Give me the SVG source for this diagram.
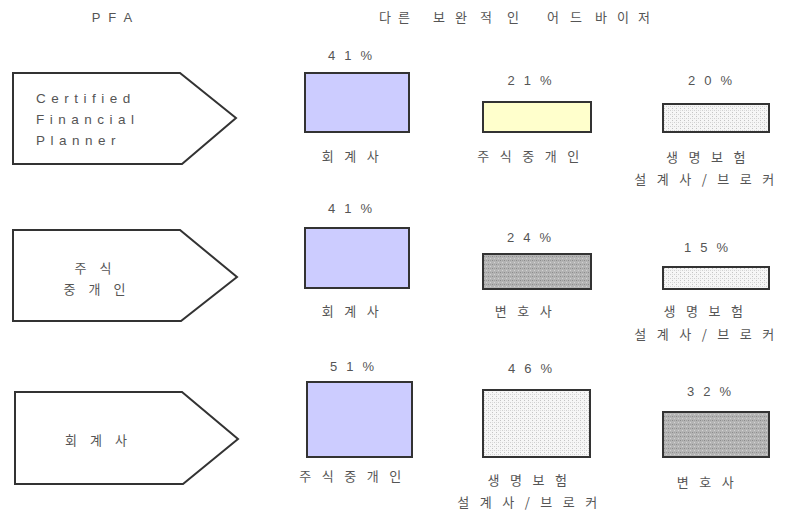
<svg xmlns="http://www.w3.org/2000/svg" width="787" height="513" viewBox="0 0 787 513">
<defs>
<pattern id="light" width="4" height="4" patternUnits="userSpaceOnUse">
<rect width="4" height="4" fill="#f6f6f6"/>
<rect x="0" y="0" width="1" height="1" fill="#c4c4c4"/>
<rect x="2" y="2" width="1" height="1" fill="#d0d0d0"/>
<rect x="0" y="2" width="1" height="1" fill="#dcdcdc"/>
</pattern>
<pattern id="dark" width="4" height="4" patternUnits="userSpaceOnUse">
<rect width="4" height="4" fill="#b4b4b4"/>
<rect x="0" y="0" width="1" height="1" fill="#8c8c8c"/>
<rect x="2" y="2" width="1" height="1" fill="#d2d2d2"/>
<rect x="2" y="0" width="1" height="1" fill="#a0a0a0"/>
</pattern>
</defs>
<style>
text{font-family:"Noto Sans CJK KR","Liberation Sans",sans-serif;font-size:13px;fill:#555;letter-spacing:10.5px}
.en{font-family:"Liberation Sans",sans-serif;font-size:13.5px;letter-spacing:5.5px}
.pct{font-family:"Liberation Sans",sans-serif;font-size:13px;letter-spacing:9px;text-anchor:middle}
.hd{letter-spacing:0}
.ar{letter-spacing:13px}
.c{text-anchor:middle}
.arrow{fill:#fff;stroke:#333;stroke-width:2}
.bar{stroke:#333;stroke-width:2}
.blue{fill:#ccccff}
.yellow{fill:#ffffcc}
.lt{fill:url(#light)}
.dk{fill:url(#dark)}
</style>
<rect width="787" height="513" fill="#fff"/>
<g id="headers">
<text class="pct" x="116" y="22" style="letter-spacing:8px">PFA</text>
<text class="hd" x="379 398 433 455 480 507 547 570 595 617 638" y="22">다른보완적인어드바이저</text>
</g>
<g id="connectors"></g>
<g id="pfa-cfp">
<polygon class="arrow" points="13,73 180,73 236,118 182,164 13,164"/>
<text class="en" x="36" y="103">Certified</text>
<text class="en" x="36" y="124">Financial</text>
<text class="en" x="36" y="145">Planner</text>
</g>
<g id="r1-a"><text class="pct" x="354.5" y="60">41%</text><rect class="bar blue" x="305" y="73" width="104" height="59"/><text class="c" x="355.5" y="161">회계사</text></g>
<g id="r1-b"><text class="pct" x="534" y="85">21%</text><rect class="bar yellow" x="483" y="102" width="108" height="30"/><text class="c" x="533.5" y="161">주식중개인</text></g>
<g id="r1-c"><text class="pct" x="714.5" y="85">20%</text><rect class="bar lt" x="663" y="104" width="106" height="28"/><text class="c" x="711" y="162">생명보험</text><text class="c" x="709.5" y="184">설계사/브로커</text></g>
<g id="pfa-broker">
<polygon class="arrow" points="13,230 180,230 237,277 181,321 13,321"/>
<text class="c ar" x="99.5" y="273">주식</text>
<text class="c ar" x="101" y="294">중개인</text>
</g>
<g id="r2-a"><text class="pct" x="354.5" y="213">41%</text><rect class="bar blue" x="305" y="228" width="104" height="60"/><text class="c" x="355.5" y="316">회계사</text></g>
<g id="r2-b"><text class="pct" x="533.5" y="242">24%</text><rect class="bar dk" x="483" y="254" width="108" height="35"/><text class="c" x="528.5" y="316">변호사</text></g>
<g id="r2-c"><text class="pct" x="710.5" y="252">15%</text><rect class="bar lt" x="663" y="267" width="106" height="22"/><text class="c" x="708.5" y="316">생명보험</text><text class="c" x="709.5" y="339">설계사/브로커</text></g>
<g id="pfa-accountant">
<polygon class="arrow" points="15,392 182,392 238,439 183,484 15,484"/>
<text class="c ar" x="102.5" y="445">회계사</text>
</g>
<g id="r3-a"><text class="pct" x="356.5" y="371">51%</text><rect class="bar blue" x="307" y="382" width="105" height="75"/><text class="c" x="355.5" y="481">주식중개인</text></g>
<g id="r3-b"><text class="pct" x="534.5" y="373">46%</text><rect class="bar lt" x="483" y="390" width="107" height="67"/><text class="c" x="532.5" y="485">생명보험</text><text class="c" x="532.5" y="507">설계사/브로커</text></g>
<g id="r3-c"><text class="pct" x="713.5" y="396">32%</text><rect class="bar dk" x="663" y="412" width="106" height="45"/><text class="c" x="710.5" y="487">변호사</text></g>
</svg>
